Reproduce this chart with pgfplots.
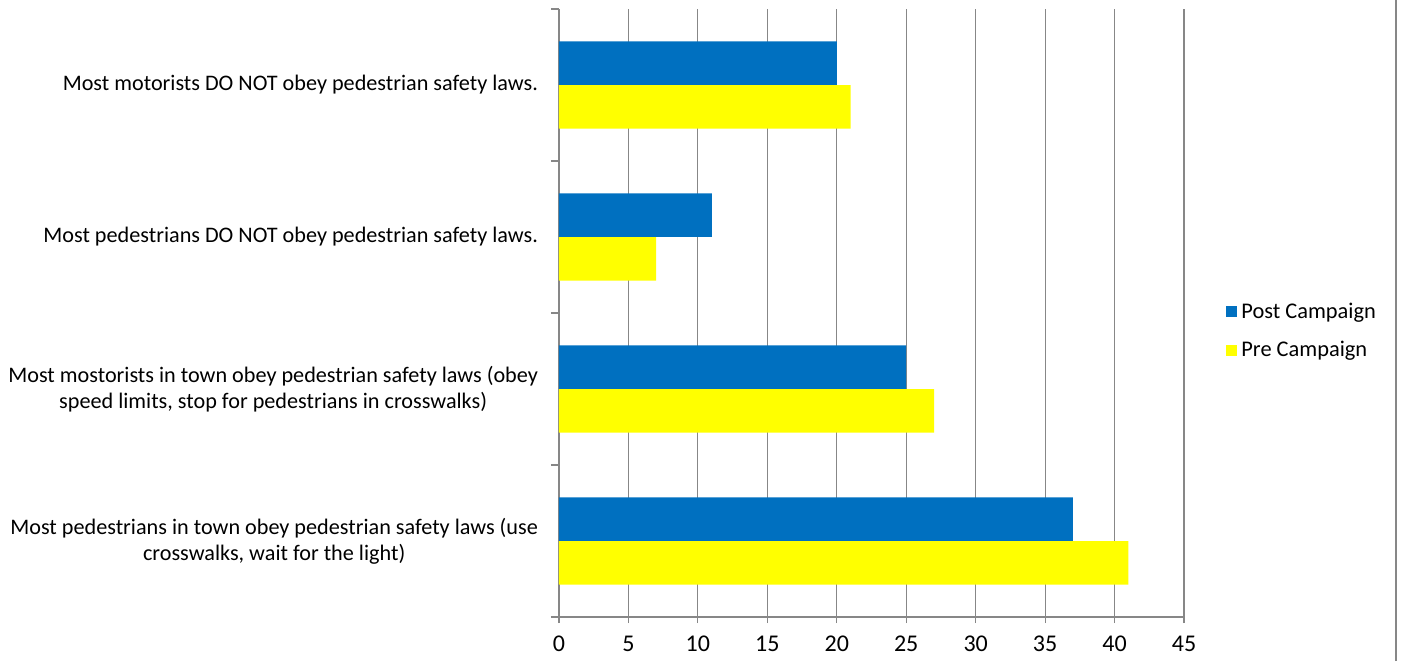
\documentclass[border=0pt]{standalone}
\usepackage{pgfplots}
\pgfplotsset{compat=1.18}
\usepackage{fontspec}
\setmainfont{Carlito}
\definecolor{postblue}{HTML}{0070C0}
\definecolor{preyellow}{HTML}{FFFF00}
\definecolor{axgray}{HTML}{878787}
\begin{document}
\begin{tikzpicture}[x=1pt,y=1pt]
\useasboundingbox (0,0) rectangle (701.5,330.5);
\draw[axgray, line width=1pt] (698,0) -- (698,330.5);
\begin{axis}[
  at={(279.5pt,22pt)}, anchor=south west,
  scale only axis, width=312.5pt, height=304pt,
  xbar, bar width=21.75pt,
  xmin=0, xmax=45, ymin=-0.5, ymax=3.5,
  xtick={0,5,...,45},
  ytick={0,1,2,3},
  yticklabels={{Most pedestrians in town obey pedestrian safety laws (use\\crosswalks, wait for the light)},
               {Most mostorists in town obey pedestrian safety laws (obey\\speed limits, stop for pedestrians in crosswalks)},
               {Most pedestrians DO NOT obey pedestrian safety laws.},
               {Most motorists DO NOT obey pedestrian safety laws.}},
  yticklabel style={align=center, font=\fontsize{11.1}{13}\selectfont, xshift=-4pt},
  xticklabel style={font=\fontsize{12}{13}\selectfont, yshift=-3pt},
  /pgf/number format/assume math mode=true,
  axis x line*=bottom, axis y line*=left,
  axis line style={axgray, line width=0.6pt},
  separate axis lines,
  x axis line style={-}, y axis line style={-},
  xmajorgrids, grid style={axgray, line width=0.6pt},
  tick align=outside,
  major y tick style={draw=none},
  minor ytick={-0.5,0.5,1.5,2.5,3.5},
  minor y tick style={axgray, line width=0.6pt},
  minor tick length=4pt,
  major x tick style={axgray, line width=0.6pt},
  major tick length=3pt,
  ymajorgrids=false, yminorgrids=false,
  legend style={at={(1,0.5)}, anchor=west, xshift=18pt, yshift=-9pt, draw=none,
    font=\fontsize{11.2}{13}\selectfont, row sep=6pt},
  legend image code/.code={\fill[#1] (0pt,-2.75pt) rectangle (5.5pt,2.75pt);},
  legend cell align=left,
]
\addplot[fill=postblue, draw=none, bar shift=10.9pt] coordinates {(37,0) (25,1) (11,2) (20,3)};
\addplot[fill=preyellow, draw=none, bar shift=-10.9pt] coordinates {(41,0) (27,1) (7,2) (21,3)};
\legend{Post Campaign, Pre Campaign}
\end{axis}
\end{tikzpicture}
\end{document}
